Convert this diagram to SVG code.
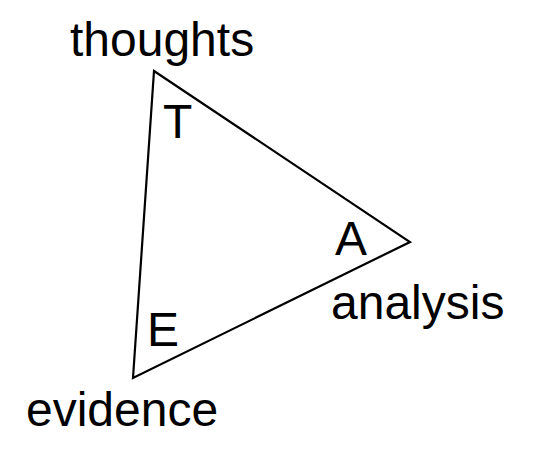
<svg xmlns="http://www.w3.org/2000/svg" width="536" height="450" viewBox="0 0 536 450">
<style>
.lbl{font-family:"Liberation Sans",Arial,sans-serif;font-size:48px;fill:#000}
.edge{fill:none;stroke:#000;stroke-width:2.2;stroke-linejoin:miter}
</style>
<rect width="536" height="450" fill="#fff"/>
<g id="connectors">
<polygon class="edge" points="154,71 410,242 133,378"/>
</g>
<g id="node-thoughts"><text class="lbl" x="70" y="56">thoughts</text></g>
<g id="node-T"><text class="lbl" x="163" y="138">T</text></g>
<g id="node-A"><text class="lbl" x="335" y="255">A</text></g>
<g id="node-analysis"><text class="lbl" x="331" y="319">analysis</text></g>
<g id="node-E"><text class="lbl" x="147" y="346">E</text></g>
<g id="node-evidence"><text class="lbl" x="26" y="426">evidence</text></g>
</svg>
